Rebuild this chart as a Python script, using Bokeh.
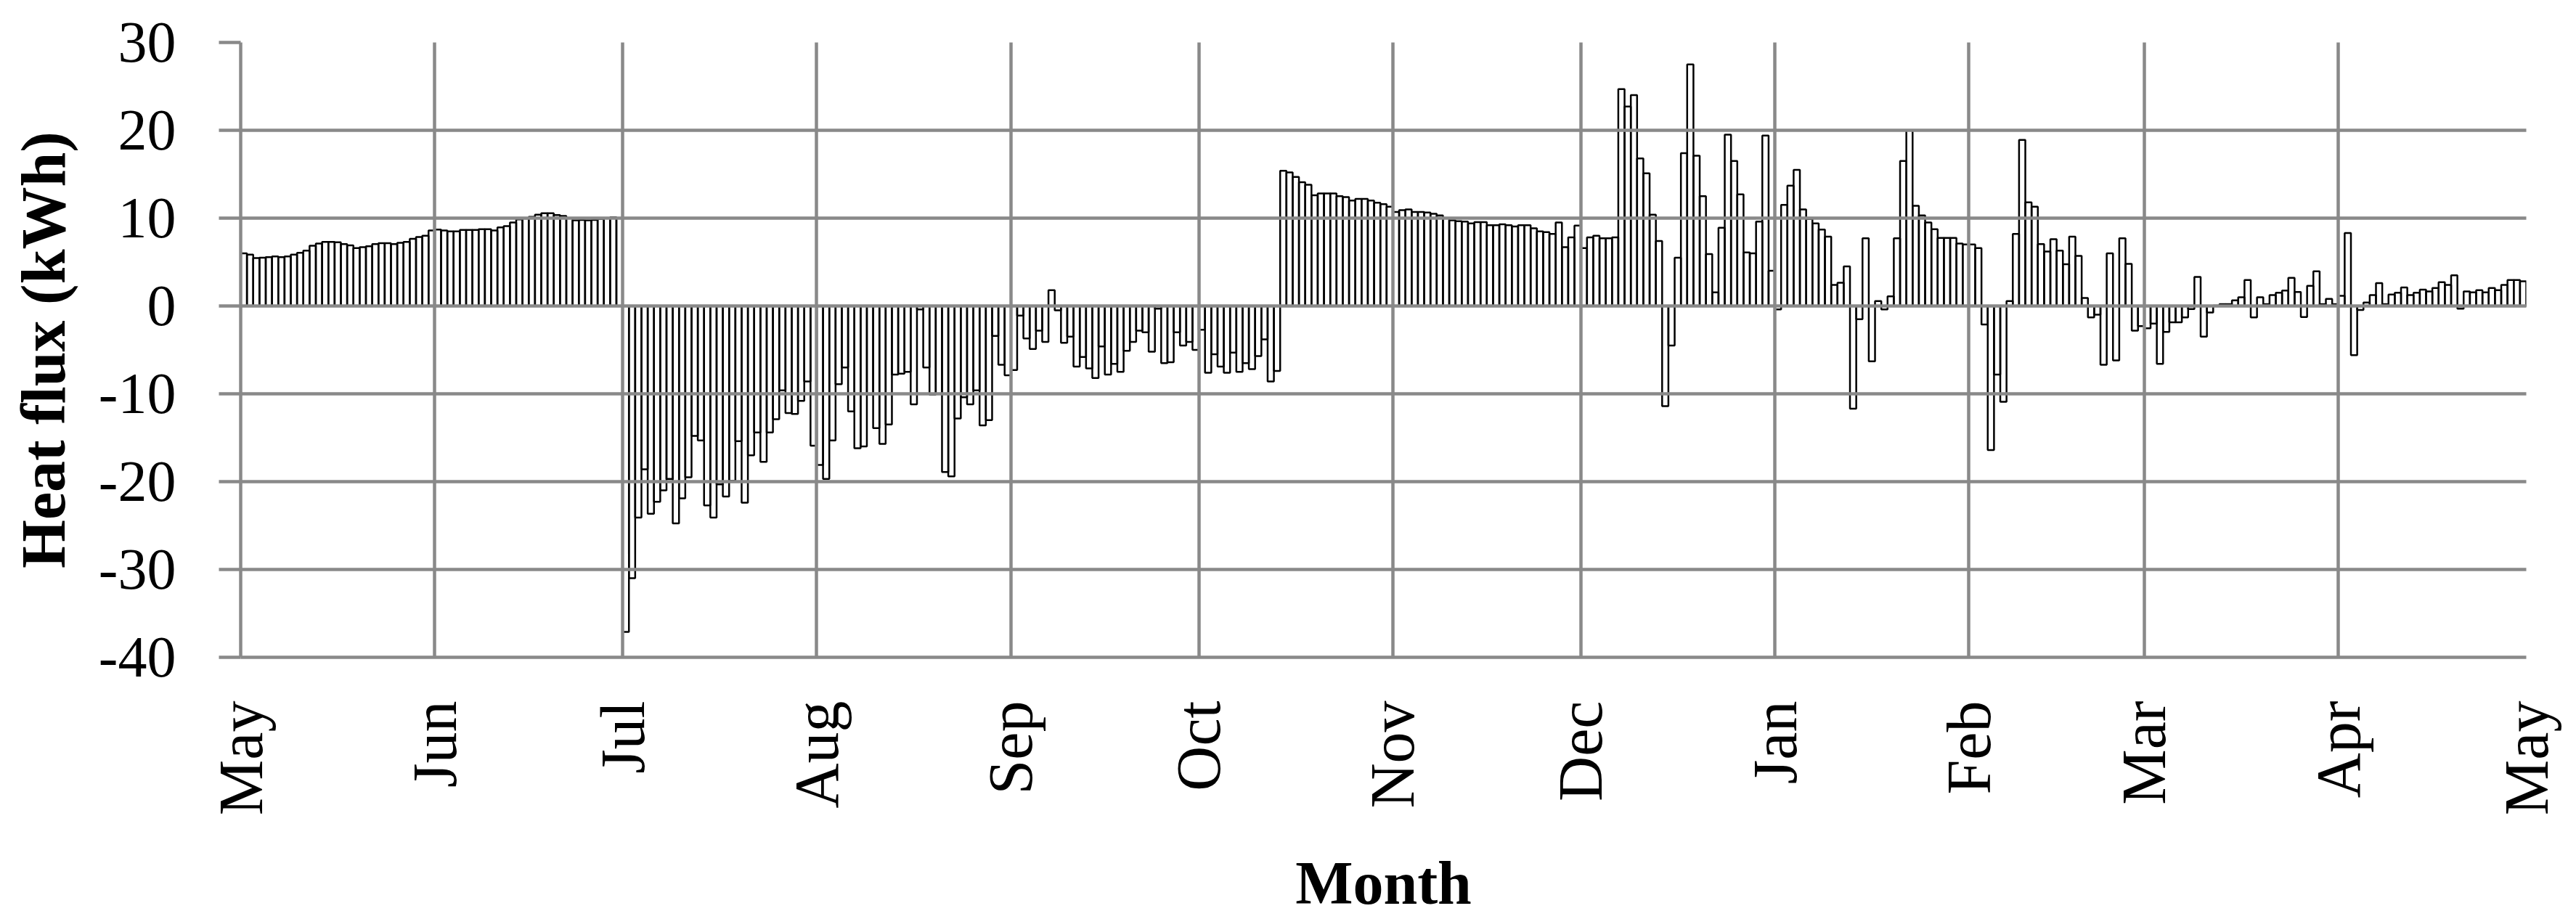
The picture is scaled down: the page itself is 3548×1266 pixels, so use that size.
import numpy as np
from math import pi
from bokeh.plotting import figure
from bokeh.models import FixedTicker, Range1d
from bokeh.embed import file_html
from bokeh.resources import INLINE

# Month tick labels (boundaries of the daily series)
months = ["May", "Jun", "Jul", "Aug", "Sep", "Oct", "Nov", "Dec",
          "Jan", "Feb", "Mar", "Apr", "May"]

# Daily heat flux (kWh), one list per month
may = [6.0, 5.85, 5.45, 5.5, 5.55, 5.65, 5.55, 5.65, 5.85, 6.05, 6.3, 6.85, 7.1, 7.3, 7.3,
       7.25, 7.05, 6.9, 6.6, 6.7, 6.8, 7.05, 7.15, 7.15, 7.05, 7.2, 7.3, 7.65, 7.85, 8.0, 8.6]
jun = [8.7, 8.6, 8.5, 8.5, 8.65, 8.65, 8.65, 8.75, 8.75, 8.6, 8.95, 9.1, 9.5, 9.85, 9.95,
       10.15, 10.4, 10.55, 10.55, 10.35, 10.25, 10.0, 9.75, 9.8, 9.75, 9.8, 9.9, 10.0, 10.1, 10.0]
jul = [-37.1, -31.0, -24.1, -18.6, -23.65, -22.3, -21.0, -19.7, -24.75, -21.9, -19.5, -14.8,
       -15.3, -22.7, -24.1, -20.3, -21.7, -19.9, -15.4, -22.4, -17.0, -14.4, -17.75, -14.4,
       -12.9, -9.6, -12.2, -12.3, -10.8, -8.6, -15.9]
aug = [-18.1, -19.7, -15.3, -8.9, -7.0, -12.0, -16.2, -16.0, -10.1, -13.9, -15.7, -13.5,
       -7.8, -7.7, -7.5, -11.2, -0.4, -7.0, -10.1, -10.0, -18.9, -19.4, -12.8, -10.4, -11.2,
       -9.6, -13.6, -13.0, -3.4, -6.7, -7.9]
sep = [-7.3, -1.1, -3.7, -4.9, -2.8, -4.1, 1.8, -0.5, -4.2, -3.5, -6.9, -5.8, -7.1, -8.2,
       -4.6, -7.8, -6.6, -7.5, -5.1, -4.1, -2.8, -3.0, -5.2, -0.3, -6.5, -6.4, -3.0, -4.5,
       -4.1, -5.0]
oct_ = [-2.7, -7.6, -5.5, -6.9, -7.6, -5.3, -7.5, -6.5, -7.2, -5.7, -3.8, -8.6, -7.4, 15.4,
        15.2, 14.7, 14.1, 13.8, 12.6, 12.8, 12.8, 12.8, 12.5, 12.4, 12.0, 12.2, 12.2, 12.0,
        11.75, 11.6, 11.3]
nov = [10.7, 10.9, 11.0, 10.7, 10.7, 10.65, 10.5, 10.3, 10.0, 9.75, 9.65, 9.6, 9.4, 9.55,
       9.55, 9.2, 9.2, 9.3, 9.2, 9.05, 9.2, 9.2, 8.85, 8.5, 8.4, 8.2, 9.5, 6.7, 7.8, 9.15]
dec = [6.6, 7.8, 8.0, 7.7, 7.7, 7.8, 24.7, 22.7, 24.0, 16.8, 15.1, 10.4, 7.4, -11.4, -4.5,
       5.5, 17.4, 27.5, 17.1, 12.5, 5.9, 1.55, 8.9, 19.5, 16.5, 12.7, 6.1, 6.0, 9.6, 19.4, 4.0]
jan = [-0.4, 11.5, 13.7, 15.5, 11.0, 9.9, 9.4, 8.7, 7.9, 2.4, 2.65, 4.5, -11.7, -1.5, 7.7,
       -6.3, 0.55, -0.4, 1.1, 7.7, 16.5, 20.0, 11.4, 10.3, 9.5, 8.75, 7.75, 7.75, 7.75, 7.1, 7.0]
feb = [7.0, 6.6, -2.1, -16.4, -7.8, -10.9, 0.55, 8.2, 18.9, 11.8, 11.3, 7.05, 6.2, 7.6, 6.3,
       4.75, 7.9, 5.7, 0.9, -1.3, -1.0, -6.7, 6.0, -6.2, 7.7, 4.8, -2.8, -2.3]
mar = [-2.55, -2.0, -6.6, -2.95, -1.85, -1.85, -1.3, -0.35, 3.3, -3.5, -0.75, 0.05, 0.2,
       0.2, 0.65, 1.0, 2.95, -1.3, 1.0, 0.2, 1.25, 1.5, 1.75, 3.2, 1.6, -1.25, 2.3, 3.95,
       0.2, 0.8, 0.2]
apr = [1.15, 8.3, -5.6, -0.45, 0.4, 1.25, 2.6, 0.2, 1.3, 1.5, 2.1, 1.25, 1.5, 1.85, 1.65,
       2.05, 2.7, 2.4, 3.5, -0.3, 1.65, 1.55, 1.8, 1.55, 2.05, 1.8, 2.4, 2.95, 2.95, 2.8]

y_ticks = [-40, -30, -20, -10, 0, 10, 20, 30]

series = [may, jun, jul, aug, sep, oct_, nov, dec, jan, feb, mar, apr]
values = np.concatenate([np.asarray(s, dtype=float) for s in series])
bounds = [0] + [int(b) for b in np.cumsum([len(s) for s in series])]
n_days = len(values)
x = np.arange(n_days) + 0.5

GRID = "#898989"
FONT = "Liberation Serif"

p = figure(width=3540, height=1266, output_backend="svg", toolbar_location=None,
           x_range=Range1d(0, n_days), y_range=Range1d(y_ticks[0], y_ticks[-1]),
           min_border_left=331, min_border_right=61, min_border_top=58,
           min_border_bottom=358)
p.background_fill_color = "white"
p.border_fill_color = "white"
p.outline_line_color = None

p.vbar(x=x, top=values, bottom=0, width=1.0, fill_color=None,
       line_color="black", line_width=2.5)

# grids
p.xgrid.ticker = FixedTicker(ticks=bounds)
p.ygrid.ticker = FixedTicker(ticks=y_ticks)
for g in (p.xgrid, p.ygrid):
    g.grid_line_color = GRID
    g.grid_line_width = 4.5
    g.level = "overlay"

# y axis
ya = p.yaxis[0]
ya.ticker = FixedTicker(ticks=y_ticks)
ya.major_label_overrides = {v: str(v) for v in y_ticks}
ya.axis_line_color = GRID
ya.axis_line_width = 4.5
ya.major_tick_line_color = GRID
ya.major_tick_line_width = 4.5
ya.major_tick_out = 30
ya.major_tick_in = 0
ya.minor_tick_line_color = None
ya.major_label_standoff = 59
ya.major_label_text_font = FONT
ya.major_label_text_font_size = "80px"
ya.major_label_text_color = "black"
ya.axis_label = "Heat flux (kWh)"
ya.axis_label_text_font = FONT
ya.axis_label_text_font_style = "bold"
ya.axis_label_text_font_size = "86px"
ya.axis_label_text_color = "black"
ya.axis_label_standoff = 25

# x axis
xa = p.xaxis[0]
xa.ticker = FixedTicker(ticks=bounds)
xa.major_label_overrides = {b: m for b, m in zip(bounds, months)}
xa.major_label_orientation = pi / 2
xa.axis_line_color = GRID
xa.axis_line_width = 4.5
xa.major_tick_out = 0
xa.major_tick_in = 0
xa.major_tick_line_color = None
xa.minor_tick_line_color = None
xa.major_label_standoff = 60
xa.major_label_text_font = FONT
xa.major_label_text_font_size = "86px"
xa.major_label_text_color = "black"
xa.axis_label = "Month"
xa.axis_label_text_font = FONT
xa.axis_label_text_font_style = "bold"
xa.axis_label_text_font_size = "84px"
xa.axis_label_text_color = "black"
xa.axis_label_standoff = 44

open("out.html", "w").write(file_html(p, INLINE))
